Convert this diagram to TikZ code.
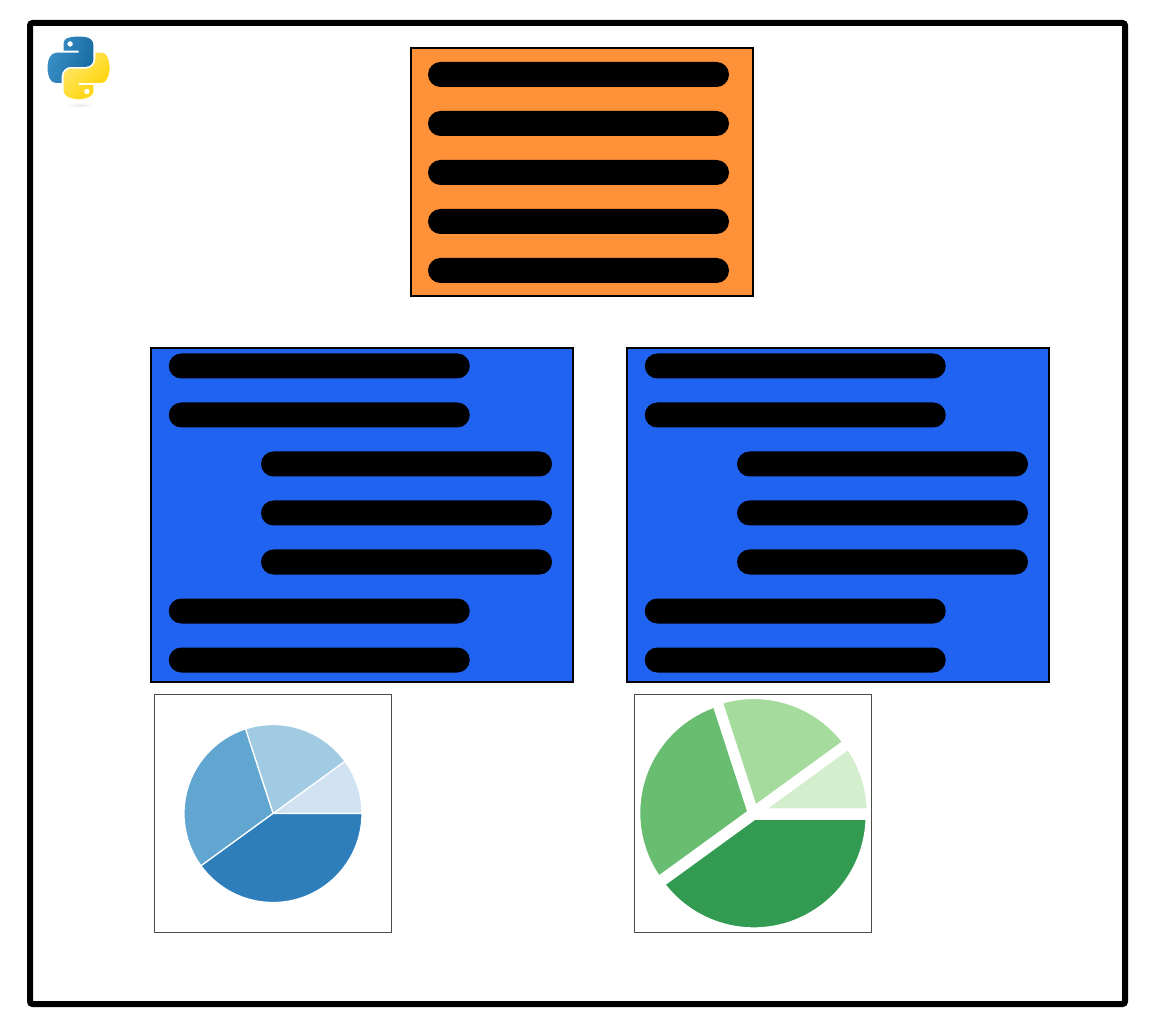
\documentclass[tikz,border=0pt]{standalone}
\usetikzlibrary{svg.path}
\definecolor{barorange}{HTML}{FF9138}
\definecolor{barblue}{HTML}{2163F1}
\definecolor{blueA}{HTML}{D1E2F2}
\definecolor{blueB}{HTML}{A1CBE2}
\definecolor{blueC}{HTML}{60A6D1}
\definecolor{blueD}{HTML}{2E7EBC}
\definecolor{greenA}{HTML}{D3EECD}
\definecolor{greenB}{HTML}{A5DB9D}
\definecolor{greenC}{HTML}{68BD71}
\definecolor{greenD}{HTML}{329B51}
\definecolor{logoblueA}{HTML}{3A90C8}
\definecolor{logoblueB}{HTML}{176A9F}
\definecolor{logoyellowA}{HTML}{FFE768}
\definecolor{logoyellowB}{HTML}{FFD200}
\tikzset{
    panel/.style={draw, line width=.04cm, inner sep=0pt}
}
\tikzset{
    bar/.style={fill=black, inner sep=0pt, minimum width=6.02cm,
    	minimum height=.5cm, rounded corners=.25cm}
}
\tikzset{
    shortbar/.style={bar, minimum width=5.82cm}
}
\tikzset{
    pieframe/.style={draw=black!70, line width=.016cm, inner sep=0pt,
    	minimum width=4.75cm, minimum height=4.76cm}
}
\tikzset{
    thinwedge/.style={draw=white, line width=.025cm},
    widewedge/.style={draw=white, line width=.17cm}
}

\begin{document}
\begin{tikzpicture}
	\useasboundingbox (0cm, 0cm) rectangle (23.18cm, 20.6cm);
	
	\node (frame) [draw, line width=.12cm, rounded corners=.05cm, inner sep=0pt,
		minimum width=21.9cm, minimum height=19.62cm] at (11.55cm, 10.33cm) {};
	
	% python logo
	\shade [inner color=black!9, outer color=white] (1.6cm, 18.5cm) ellipse (.3cm and .05cm);
	\begin{scope}[shift={(.95cm, 19.87cm)}, xscale=.318, yscale=-.318]
		\shade [even odd rule, left color=logoblueA, right color=logoblueB, shading angle=70]
		svg {M 54.918785,0 C 50.335132,0.02221727 45.957846,0.41313697 42.106285,1.0946693 30.760069,3.0991731 28.700036,7.2947714 28.700035,15.032169 v 10.21875 h 26.8125 v 3.40625 h -36.875 c -7.792459,0 -14.6157588,4.683717 -16.7499998,13.59375 -2.46181998,10.212966 -2.57101508,16.586023 0,27.25 1.9059283,7.937852 6.4575432,13.593748 14.2499998,13.59375 h 9.21875 v -12.25 c 0,-8.849902 7.657144,-16.656248 16.75,-16.65625 h 26.78125 c 7.454951,0 13.406253,-6.138164 13.40625,-13.625 v -25.53125 c 0,-7.2663343 -6.12998,-12.7247295 -13.40625,-13.9374995 C 64.281548,0.32794397 59.502438,-0.02037903 54.918785,0 Z M 40.418785,8.21875 c 2.769547,0 5.03125,2.2986456 5.03125,5.1249996 0,2.816336 -2.261703,5.09375 -5.03125,5.09375 -2.779476,0 -5.03125,-2.277415 -5.03125,-5.09375 0,-2.826353 2.251774,-5.1249996 5.03125,-5.1249996 Z};
		\shade [even odd rule, left color=logoyellowA, right color=logoyellowB, shading angle=45]
		svg {M 85.637535,28.657169 v 11.90625 c 0,9.230755 -7.825895,16.999999 -16.75,17 h -26.78125 c -7.335833,0 -13.406249,6.278483 -13.40625,13.625 v 25.531247 c 0,7.266344 6.318588,11.540324 13.40625,13.625004 8.487331,2.49561 16.626237,2.94663 26.78125,0 6.750155,-1.95439 13.406253,-5.88761 13.40625,-13.625004 V 86.500919 h -26.78125 v -3.40625 h 40.187504 c 7.792461,0 10.696251,-5.435408 13.406241,-13.59375 2.79933,-8.398886 2.74544,-16.475776 0,-27.25 -1.92578,-7.757441 -5.60387,-13.59375 -13.406241,-13.59375 Z M 70.575035,93.313419 c 2.779478,0 5.03125,2.277417 5.03125,5.093747 0,2.826354 -2.251775,5.125004 -5.03125,5.125004 -2.76955,0 -5.03125,-2.29865 -5.03125,-5.125004 0,-2.81633 2.261697,-5.093747 5.03125,-5.093747 Z};
	\end{scope}
	
	\node (top) [panel, fill=barorange, minimum width=6.85cm, minimum height=4.96cm] at (11.635cm, 17.16cm) {};
	\node (top1) [bar] at (11.57cm, 19.11cm) {};
	\node (top2) [bar] at (11.57cm, 18.13cm) {};
	\node (top3) [bar] at (11.57cm, 17.15cm) {};
	\node (top4) [bar] at (11.57cm, 16.17cm) {};
	\node (top5) [bar] at (11.57cm, 15.19cm) {};
	
	\node (left) [panel, fill=barblue, minimum width=8.44cm, minimum height=6.68cm] at (7.24cm, 10.3cm) {};
	\node (left1) [bar] at (6.385cm, 13.28cm) {};
	\node (left2) [bar] at (6.385cm, 12.30cm) {};
	\node (left3) [shortbar] at (8.13cm, 11.32cm) {};
	\node (left4) [shortbar] at (8.13cm, 10.34cm) {};
	\node (left5) [shortbar] at (8.13cm, 9.36cm) {};
	\node (left6) [bar] at (6.385cm, 8.38cm) {};
	\node (left7) [bar] at (6.385cm, 7.40cm) {};
	
	\node (right) [panel, fill=barblue, minimum width=8.44cm, minimum height=6.68cm] at (16.765cm, 10.3cm) {};
	\node (right1) [bar] at (15.905cm, 13.28cm) {};
	\node (right2) [bar] at (15.905cm, 12.30cm) {};
	\node (right3) [shortbar] at (17.65cm, 11.32cm) {};
	\node (right4) [shortbar] at (17.65cm, 10.34cm) {};
	\node (right5) [shortbar] at (17.65cm, 9.36cm) {};
	\node (right6) [bar] at (15.905cm, 8.38cm) {};
	\node (right7) [bar] at (15.905cm, 7.40cm) {};
	
	% plain pie
	\coordinate (p) at (5.46cm, 4.33cm);
	\fill [blueA, thinwedge] (p) -- ++(0:1.78cm) arc (0:36:1.78cm) -- cycle;
	\fill [blueB, thinwedge] (p) -- ++(36:1.78cm) arc (36:108:1.78cm) -- cycle;
	\fill [blueC, thinwedge] (p) -- ++(108:1.78cm) arc (108:216:1.78cm) -- cycle;
	\fill [blueD, thinwedge] (p) -- ++(216:1.78cm) arc (216:360:1.78cm) -- cycle;
	\node (plainframe) [pieframe] at (5.46cm, 4.334cm) {};
	
	% exploded pie
	\coordinate (q) at (15.06cm, 4.336cm);
	\fill [greenA, widewedge] ([shift={(18:.04cm)}]q) -- ++(0:2.32cm) arc (0:36:2.32cm) -- cycle;
	\fill [greenB, widewedge] ([shift={(72:.05cm)}]q) -- ++(36:2.32cm) arc (36:108:2.32cm) -- cycle;
	\fill [greenC, widewedge] ([shift={(162:.02cm)}]q) -- ++(108:2.32cm) arc (108:216:2.32cm) -- cycle;
	\fill [greenD, widewedge] ([shift={(288:.05cm)}]q) -- ++(216:2.32cm) arc (216:360:2.32cm) -- cycle;
	\node (splitframe) [pieframe] at (15.06cm, 4.334cm) {};
\end{tikzpicture}
\end{document}
